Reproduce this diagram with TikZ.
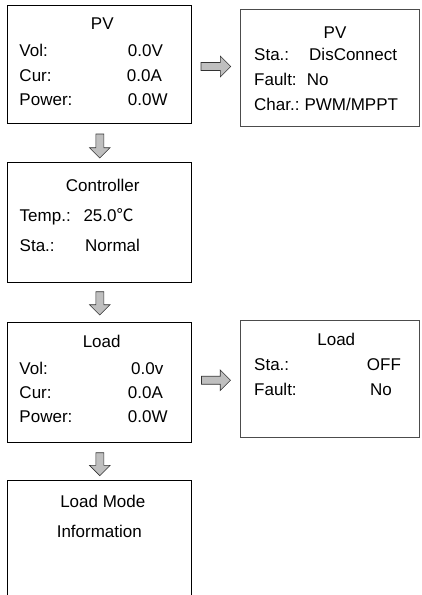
\documentclass[tikz,border=0pt]{standalone}
\usepackage{fontspec}
\setmainfont{Liberation Sans}
\newfontfamily\cjkfont{Noto Sans CJK SC}
\usetikzlibrary{shapes.arrows,calc}
\begin{document}
\begin{tikzpicture}[x=1pt,y=-1pt,
  box/.style={draw=black, line width=1pt, anchor=north west, inner sep=0pt, outer sep=0pt},
  sbox/.style={box, draw=black!70},
  txt/.style={inner sep=0pt, anchor=base west, font=\fontsize{17}{20}\selectfont},
  ttl/.style={txt, anchor=base},
  barrow/.style={single arrow, draw=black!80, fill=gray!50, line width=0.6pt,
    inner sep=3.7pt, single arrow head extend=6.3pt, minimum width=0pt,
    anchor=tail, outer sep=0pt},
  darrow/.style={barrow, rotate=-90},
]
\useasboundingbox (0,0) rectangle (422,595);
\clip (0,0) rectangle (422,595);

% boxes
\node[box, minimum width=184.4pt, minimum height=117.8pt] (pv) at (7.3,5.7) {};
\node[sbox, minimum width=178.8pt, minimum height=116.7pt] (pvs) at (240.7,9.3) {};
\node[box, minimum width=184.4pt, minimum height=119.5pt] (ctl) at (7.3,162.5) {};
\node[box, minimum width=184.4pt, minimum height=119.5pt] (ld) at (7.3,322.5) {};
\node[sbox, minimum width=178.8pt, minimum height=117pt] (lds) at (240.7,320) {};
\node[box, minimum width=184.4pt, minimum height=130pt] (lm) at (7.3,480) {};

% box 1 : PV
\node[ttl] (pvT) at (102.3,29.3) {PV};
\node[txt] (pvVl) at (19.3,56.7) {Vol:};
\node[txt] (pvVv) at (127.7,56.7) {0.0V};
\node[txt] (pvCl) at (19.3,81) {Cur:};
\node[txt] (pvCv) at (126.7,81) {0.0A};
\node[txt] (pvPl) at (19.3,105) {Power:};
\node[txt] (pvPv) at (127.7,105) {0.0W};

% box 2 : PV status
\node[ttl] (pvsT) at (335,38.3) {PV};
\node[txt] (pvsSl) at (254,60) {Sta.:};
\node[txt] (pvsSv) at (309,60) {DisConnect};
\node[txt] (pvsFl) at (254,85.7) {Fault:};
\node[txt] (pvsFv) at (306.7,85.7) {No};
\node[txt] (pvsCl) at (254,110) {Char.:};
\node[txt] (pvsCv) at (304.3,110) {PWM/MPPT};

% box 3 : Controller
\node[ttl] (ctlT) at (102.7,191.7) {Controller};
\node[txt] (ctlTl) at (19.5,221.7) {Temp.:};
\node[txt] (ctlTv) at (83.3,221.7) {25.0{\cjkfont ℃}};
\node[txt] (ctlSl) at (19.5,251.7) {Sta.:};
\node[txt] (ctlSv) at (85,251.7) {Normal};

% box 4 : Load
\node[ttl] (ldT) at (101.7,347.3) {Load};
\node[txt] (ldVl) at (19.3,374) {Vol:};
\node[txt] (ldVv) at (131,374) {0.0v};
\node[txt] (ldCl) at (19.3,398.3) {Cur:};
\node[txt] (ldCv) at (127.7,398.3) {0.0A};
\node[txt] (ldPl) at (19.3,422.7) {Power:};
\node[txt] (ldPv) at (127.7,422.7) {0.0W};

% box 5 : Load status
\node[ttl] (ldsT) at (336.3,345) {Load};
\node[txt] (ldsSl) at (254,370) {Sta.:};
\node[txt] (ldsSv) at (366.7,370) {OFF};
\node[txt] (ldsFl) at (254,395) {Fault:};
\node[txt] (ldsFv) at (370,395) {No};

% box 6 : Load mode
\node[ttl] (lmT) at (102.8,507.7) {Load Mode};
\node[ttl] (lmI) at (99.3,537.3) {Information};

% block arrows
\node[barrow, minimum height=29.7pt] (a1) at ([xshift=9.3pt,yshift=-1.9pt]pv.east) {};
\node[barrow, minimum height=29pt] (a2) at ([xshift=9.8pt,yshift=2pt]ld.east) {};
\node[darrow, minimum height=24pt] (d1) at ([xshift=0.3pt,yshift=-10.5pt]pv.south) {};
\node[darrow, minimum height=23.3pt] (d2) at ([xshift=0.3pt,yshift=-9.7pt]ctl.south) {};
\node[darrow, minimum height=23pt] (d3) at ([xshift=0.3pt,yshift=-10.7pt]ld.south) {};
\end{tikzpicture}
\end{document}
